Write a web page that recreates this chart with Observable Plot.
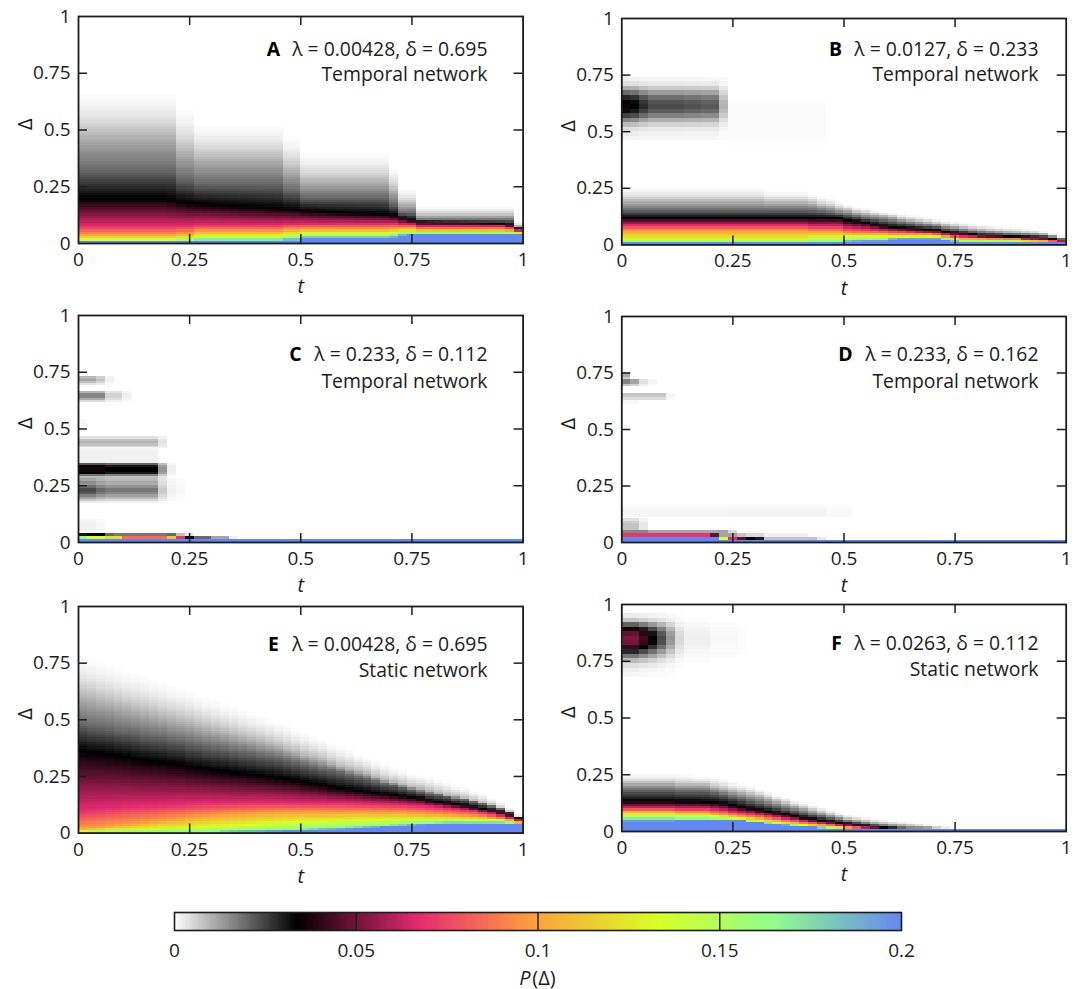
<!DOCTYPE html>
<html><head><meta charset="utf-8">
<script src="https://cdn.jsdelivr.net/npm/d3@7"></script>
<script src="https://cdn.jsdelivr.net/npm/@observablehq/plot@0.6"></script>
<style>
html,body{margin:0;padding:0;background:#fff;}
#page{position:relative;width:1078px;height:989px;overflow:hidden;}
#page svg{position:absolute;overflow:visible;background:transparent;}
.heat{filter:blur(0.45px);}
</style></head><body><div id="page"></div>
<script>
// Colour scale of P(Δ)
const colorDomain=[0,.0338,.0674,.098,.133,.165,.2];
const colorRange=["#ffffff","#000000","#e62a72","#ff9c3f","#d9ff26","#92fc8c","#6488f0"];
// P value of each iso-level; the arrays below give, per t column, the Δ (in %) where P falls to that level
const levelP=[.2,.165,.133,.098,.067,.034,.02,.01,0];
const tickVals=[0,.25,.5,.75,1];
const innerTicks=[.25,.5,.75];
const barTicks=[0,.05,.1,.15,.2];

// Panel A (runs written as [count,value])
const aBlue=[[25,.9],[11,1.9],3,[13,3.8]];
const aGreen=[[11,1.1],[2,1.2],[10,1.6],[2,2.2],[10,3],3.6,[2,4.3],[10,4.4],4.4,4.2];
const aLime=[[11,1.5],[2,1.8],[10,3],[2,3.8],[10,4.3],4.6,[2,5],[10,4.9],4.7,4.4];
const aOrange=[[11,3.7],[2,4.2],[10,5.3],[2,5.9],[10,6.2],6.4,[2,6.5],[10,5.9],5.6,4.8];
const aPink=[[11,7.5],[2,7.7],[10,8],[2,8.3],[10,8.5],8.6,[2,8.2],[10,7.4],6.8,5.4];
const aBlack=[[10,19.5],19,18,17.5,17.2,17,16.8,16.5,16.3,16,15.8,15.5,15.3,15,14.8,14.5,14,13.8,13.6,13.4,13.2,13,12.9,12.8,12.7,12.5,12,11,10,9.3,9.2,9.1,9,9,8.9,8.8,8.7,8.6,8.5,8,6.3];
const aDark=[[11,32],[2,28],[10,26],[2,23],[10,20],17,[2,13],[11,10],7];
const aMid=[[11,47],[2,40],[10,37],[2,32],[10,27],23,[2,17],[11,12],7.5];
const aFade=[[11,69],[2,62],[10,55],[2,49],[10,42],35,[2,25],[11,17],9.5];

// Panel B
const bBlue=[[25,.7],.9,1.1,[3,1.3],2.2,[5,2.4],2,1.2,[12,.8]];
const bGreen=[[21,1.2],[4,1.5],2.2,[4,2.4],[6,2.9],2.5,1.8,[7,1.3],[5,.9]];
const bLime=[[21,2.2],[4,3],[11,3.4],3,2.4,2,1.9,1.9,1.8,1.8,1.7,1.6,1.3,1.1,1,.9,.8];
const bOrange=[[21,6],[4,5.7],5,[4,4.8],[5,4.4],4,3.5,2.9,2.7,2.6,2.5,2.4,2.4,2.3,2.3,1.9,1.8,1.6,1.2,1];
const bPink=[[21,8.5],[4,8],7.2,7,6.8,6.4,6.2,6,5.8,5.5,5.2,5,4.9,4.2,3.9,3.5,3.3,3.1,[4,3],2.3,2.2,2.1,1.7,1.3];
const bBlack=[[25,11.5],10.5,10,9.5,8.8,8,7.5,7.2,7,6.8,6.5,6.3,5.5,5,4.8,4.5,3.9,3.8,3.7,3.5,3.4,3.2,3,2.8,2.4,2];
const bDark=[[21,15],14.8,14.5,14,13.5,13,12.3,11.5,11,10.5,10,9.5,9,8.5,8.2,7.8,7,6.6,6,5.6,5.2,5,4.8,4.5,4.4,4.2,4,3.8,3.2,2.5];
const bMid=[[16,19],[5,18.5],18,17,16.5,15.5,15,14,13.5,13,12.5,12,11,10.5,10,9.5,9,8.3,7.8,7.3,6.8,6.5,6,5.8,5.5,5.3,5,4.8,4.5,3.8,3];
const bFade=[[16,26],[5,24.5],23,22,21,19.5,18,17,16.5,15.5,15,14.5,14,13.5,13,12.5,11.5,11,10.5,10,9.5,9,8.7,8.5,8.2,8,7.5,7,6,5,3.8];
// Blobs: [Δ start %, row step %, row weights, peak P per t column]
const bBlobs=[
 [46,2,[.04,.07,.12,.25,.45,.7,.9,1,.95,.8,.55,.3,.12,.05],[.036,.034,.028,.024,.024,.024,.024,.023,.023,.022,.022,.01]],
 [44,2,[.4,.7,1,1,1,1,1,1,.7,.4],[0,0,0,0,0,0,0,0,0,0,0,0,.0008,.0008,.0008,.0008,.0008,.0008,.0008,.0008,.0008,.0008,.0008]]
];

// Panel C bands
const blueFloor=Array(50).fill(.2);
const cBands=[
 [69,1,[.3,.7,1,.8],[.012,.012,.008,.002]],
 [61.5,1,[.3,.7,1,1,.6],[.016,.016,.016,.006,.006,.002]],
 [50,2,[.5,.5],[.0015]],
 [41.5,1,[.5,.8,1,.8,.4],[.01,.01,.01,.01,.01,.01,.01,.01,.01,.004]],
 [34,2,[1,1,1,.8],[.0018,.0018,.0018,.0018,.0018,.0018,.0018,.0018,.0018]],
 [28,1,[.25,.5,.9,1,1,.9,.6],[.037,.037,.037,.034,.034,.034,.034,.034,.034,.014,.002]],
 [17,1,[.1,.3,.5,.7,.9,1,1,.8,.6,.65,.5],[.024,.024,.02,.018,.018,.018,.018,.018,.018,.007,.002,.001]],
 [5,1,[1,1,1,.9,.7],[.002,.002,.001]],
 [2.6,1.4,[1],[.04,.036,.034,.02,.018,.018,.018,.018,.018,.018,.02,.008,.003]],
 [1,1.6,[1],[.165,.135,.135,.122,.122,.085,.085,.085,.085,.085,.112,.07,.034,.02,.02,.012,.012,.002]],
 [0,1.2,[1],blueFloor]
];

// Panel D bands
const dBands=[
 [72,1,[.6,1,1],[.011]],
 [69,1,[.5,1,1],[.016,.012,.004,.0012]],
 [63,1,[.6,1,1],[.0075,.0075,.0075,.0075,.0075,.0015]],
 [61,1,[.4,.4],[.002,.002]],
 [11,1,[.8,1,1,.8,.5,.3],[.0012,.0012,.0012,.0012,.0012,.0012,.0012,.0012,.0012,.0012,.0012,.0012,.0018,.0018,.0018,.0018,.0018,.0018,.0018,.0018,.0018,.0018,.0018,.0008,.0008,.0008]],
 [5.5,1,[1,1,1,.8,.5],[.008,.008,.003]],
 [4,1.5,[1],[.016,.016,.016,.012,.012,.012,.012,.012,.012,.012,.012,.012,.005]],
 [2.2,1.8,[1],[.07,.07,.07,.07,.07,.07,.07,.07,.07,.07,.048,.012,.012,.008,.005,.005,.002,.002,.002,.002,.002]],
 [1,1.2,[1],[.2,.2,.2,.2,.2,.2,.2,.2,.2,.2,.2,.135,.067,.048,.034,.03,.008,.008,.008,.008,.008,.008,.003]],
 [0,1,[1],blueFloor]
];

// Panel E
const eBlue=[[21,.3],.4,.4,.5,.6,.7,.8,.9,1,1.2,1.4,1.7,2,2.2,2.5,2.7,2.9,3.2,3.4,3.7,3.8,3.9,4,4,4,4,4,3.9,3.7,3.5];
const eGreen=[[15,.4],.5,.6,.7,.8,.9,1,1.1,1.2,1.4,1.5,1.7,1.9,2.1,2.3,2.5,2.7,2.9,3.1,3.3,3.5,3.7,3.9,4.1,4.3,4.5,4.6,4.7,4.7,4.7,4.7,4.7,4.7,4.7,4.4,3.8];
const eLime=[.5,.6,.7,.8,.9,1,1.1,1.2,1.4,1.6,1.7,1.9,2.1,2.3,2.5,2.7,2.9,3.1,3.3,3.5,3.7,3.9,4.1,4.3,4.5,4.7,4.8,4.9,5,5.1,5.2,5.3,5.4,5.5,5.6,5.7,5.8,5.8,5.9,5.9,5.9,5.9,5.8,5.8,5.7,5.7,5.6,5.4,5,4.2];
const eOrange=[1.8,2.2,2.6,3,3.4,3.8,4.2,4.6,5,5.4,5.8,6.2,6.6,7,7.3,7.6,7.9,8.1,8.3,8.5,8.7,8.8,8.9,9,9,9,9,9,9,9,9,9,9,8.9,8.9,8.8,8.8,8.6,8.4,8.2,8,7.8,7.6,7.4,7.2,7,6.6,6.1,5.6,4.6];
const ePink=[10,10.3,10.6,10.9,11.1,11.4,11.6,11.8,12,12.2,12.4,12.6,12.8,12.9,13,13,13.1,13.1,13.2,13.2,13.2,13.2,13.2,13.1,13.1,13,13,13,12.9,12.9,12.8,12.7,12.6,12.5,12.4,12.3,12.2,12,11.8,11.5,11.2,10.8,10.4,10,9.5,8.8,8.2,7.4,6.4,5.2];
const eBlack=[36,35.5,35,34.5,34,33.5,32.5,32,31.5,31,30.5,30,29,28.5,28,27.5,27,26.5,26,25.5,25,24.5,24,23.5,23,22,21.5,21,20,19.5,19,18.5,18,17.5,17,16.5,16,15.5,15,14,13.5,13,12.5,12,11,10.5,10,9,8,6.5];
const eDark=[48,47,46.5,46,45,44.5,44,43,42.5,42,41,40.5,39.5,39,38,37.5,37,36,35.5,35,34,33.5,33,32,31,30,29,28,27.5,26.5,25.5,24.5,23.5,22.5,21.5,21,20,19,18,17,16.5,16,15,14.5,13.5,12.5,11.5,10.5,9,7];
const eMid=[60,59,58,57,56,55,54,53,52,51,50,49,48,47,46,45,44,43,42,41,40,39,38,36.5,35.5,34,33,32,30.5,29,28,27,26,24.5,23,22,21,20,19.5,18.5,17.5,16.5,16,15,14,13,12,10.5,9,7];
const eFade=[81,80,78.5,77,75.5,74,73,72,70.5,69,68,66.5,65,63.5,62,61,59.5,58,56.5,55,53.5,52,50.5,49,47.5,46,44.5,43,41,39.5,38,36,34.5,33,31.5,30,29,27.5,26.5,25.5,24.5,23.5,22,21,19.5,18,16,14,11.5,8];

// Panel F
const fBlue=[[6,4.3],[7,5],4.6,4,3.5,3.1,2.7,2.4,2.1,1.8,1.5,1.3,1.1,1,.9,[19,.8],[5,1.1]];
const fGreen=[[6,5.7],[4,5.5],5.3,5.1,4.8,4.5,4.2,4,3.6,3.2,2.8,2.5,2.2,1.9,1.6,1.3,1.1,1,[19,.9],[5,1.2]];
const fLime=[[6,7.2],[4,6.9],6.5,6.2,5.8,5.4,5,4.7,4.2,3.7,3.2,2.9,2.5,2.2,1.9,1.6,1.4,1.2,[19,.9],[5,1.2]];
const fOrange=[[6,8.7],[4,8.2],7.6,7.3,6.9,6.5,6.1,5.7,5.2,4.8,4.2,3.7,3.2,2.9,2.5,2.2,1.8,1.5,1.2,1,[17,.9],[5,1.2]];
const fPink=[[6,10],[4,9.8],9.4,9,8.4,8,7.6,7.2,6.6,6,5.4,4.9,4.3,3.8,3.3,2.9,2.4,2,1.7,1.3,1.1,[16,.9],[5,1.2]];
const fBlack=[[6,13],[3,12.8],12.6,12.4,11.9,11.2,10.4,9.8,9,8.5,7.9,7.2,6.5,5.7,5.2,4.6,4.1,3.6,3.2,2.7,2.2,1.8,1.5,1.3,1.1,[13,.9],[5,1.2]];
const fDark=[[6,18],[4,17.5],16.8,16,15,14.2,13.2,12.4,11.5,10.6,9.7,8.8,8,7.2,6.5,5.7,5,4.3,3.8,3.2,2.7,2.2,1.8,1.5,[13,.9],[5,1.2]];
const fMid=[[6,21],[4,20.3],19,18.3,17.5,16.8,16,15.3,14.2,13,12,11,10,9,8,7,6.2,5.3,4.7,4.2,3.6,3.2,2.8,2.5,2.2,2,1.7,1.2,[9,.9],[5,1.2]];
const fFade=[[8,26],[3,25],24,22.5,21.5,20.5,19,18,16.5,15.5,14,13,12,11,10,8.5,7.5,7,6.5,6,5.5,5,4.5,4,3.5,3,2.5,2,1.6,[7,1.2],[5,1.3]];
const fBlobs=[[68,2,[.02,.04,.08,.18,.35,.55,.8,.97,1,.92,.7,.4,.15,.05],[.052,.052,.043,.034,.024,.014,.005,.002,.002,.002,.001,.001,.001,.0005]]];

const expand=a=>a.flatMap(v=>Array.isArray(v)?Array(v[0]).fill(v[1]):[v]);
const table=(...cols)=>cols.map(expand);

const panels=[
 {key:"A",info:"λ = 0.00428, δ = 0.695",net:"Temporal network",box:[78,16,522.6,243],lx:273,tx:487,ty:[33,58],levels:table(aBlue,aGreen,aLime,aOrange,aPink,aBlack,aDark,aMid,aFade),bands:[]},
 {key:"B",info:"λ = 0.0127, δ = 0.233",net:"Temporal network",box:[621.3,18,1065.7,244.4],lx:835,tx:1038,ty:[31,56],levels:table(bBlue,bGreen,bLime,bOrange,bPink,bBlack,bDark,bMid,bFade),bands:bBlobs},
 {key:"C",info:"λ = 0.233, δ = 0.112",net:"Temporal network",box:[78,314.5,522.6,541.5],lx:295,tx:487,ty:[39,66],levels:null,bands:cBands},
 {key:"D",info:"λ = 0.233, δ = 0.162",net:"Temporal network",box:[621.3,315.5,1065.7,541.5],lx:845,tx:1038,ty:[38,65],levels:null,bands:dBands},
 {key:"E",info:"λ = 0.00428, δ = 0.695",net:"Static network",box:[78,605.7,522.6,832.3],lx:273,tx:487,ty:[38,64],levels:table(eBlue,eGreen,eLime,eOrange,ePink,eBlack,eDark,eMid,eFade),bands:[]},
 {key:"F",info:"λ = 0.0263, δ = 0.112",net:"Static network",box:[621.3,604.3,1065.7,831.3],lx:836,tx:1038,ty:[39,65],levels:table(fBlue,fGreen,fLime,fOrange,fPink,fBlack,fDark,fMid,fFade),bands:fBlobs}
];

function levelValue(levels,c,d){
  const H=levels.map(l=>l[c]), last=H.length-1;
  if(d<=H[0]) return levelP[0];
  for(let i=0;i<last;i++){
    if(d<=H[i+1]){
      const f=(d-H[i])/Math.max(H[i+1]-H[i],.001);
      // the outermost stretch tails off softly towards white, as in the picture
      if(i===last-1) return levelP[i]*(1-f)*(1-f);
      return levelP[i]+(levelP[i+1]-levelP[i])*f;
    }
  }
  return 0;
}
function cellsOf(p){
  const out=[];
  if(p.levels){
    for(let c=0;c<50;c++) for(let r=0;r<100;r++){
      const v=levelValue(p.levels,c,r+.5);
      if(v>.0002) out.push({t1:c/50,t2:(c+1)/50,d1:r/100,d2:(r+1)/100,p:v});
    }
  }
  for(const [start,step,weights,cols] of p.bands){
    weights.forEach((w,i)=>cols.forEach((v,c)=>{
      if(v*w>.0002) out.push({t1:c/50,t2:(c+1)/50,d1:(start+i*step)/100,d2:(start+(i+1)*step)/100,p:v*w});
    }));
  }
  return out;
}
const colorOpt={type:"linear",domain:colorDomain,range:colorRange,interpolate:"rgb",clamp:true};
const font={fontFamily:"'Open Sans',sans-serif",fontSize:"19px",color:"#222"};
const ink="#1c1c1c", tickLen=9;
const page=document.getElementById("page");

for(const p of panels){
  const [L,T,R,B]=p.box, w=R-L, h=B-T;
  const mL=L>600?L-540:L, mT=30, mB=60, mR=14;
  const svgLeft=L-mL, svgTop=T-mT;
  const plot=Plot.plot({
    width:w+mL+mR,height:h+mT+mB,marginLeft:mL,marginRight:mR,marginTop:mT,marginBottom:mB,
    style:font,
    x:{domain:[0,1]},y:{domain:[0,1]},color:colorOpt,
    marks:[
      Plot.rect(cellsOf(p),{x1:"t1",x2:"t2",y1:"d1",y2:"d2",fill:"p",shapeRendering:"crispEdges",className:"heat"}),
      Plot.ruleX(innerTicks,{x:d=>d,insetTop:h-tickLen,stroke:ink,strokeWidth:1.5}),
      Plot.ruleX(innerTicks,{x:d=>d,insetBottom:h-tickLen,stroke:ink,strokeWidth:1.5}),
      Plot.ruleY(innerTicks,{y:d=>d,insetRight:w-tickLen,stroke:ink,strokeWidth:1.5}),
      Plot.ruleY(innerTicks,{y:d=>d,insetLeft:w-tickLen,stroke:ink,strokeWidth:1.5}),
      Plot.frame({stroke:ink,strokeWidth:1.8}),
      Plot.axisX({ticks:tickVals,tickFormat:d=>String(d),tickSize:0,tickPadding:9,label:null,fontSize:19,fill:ink}),
      Plot.axisY({ticks:tickVals,tickFormat:d=>String(d),tickSize:0,tickPadding:8,label:null,fontSize:19,fill:ink}),
      Plot.text(["t"],{frameAnchor:"bottom",dy:50,text:d=>d,fontStyle:"italic",fontSize:20,fill:ink}),
      Plot.text(["Δ"],{frameAnchor:"left",dx:-53,rotate:-90,text:d=>d,fontSize:20,fill:ink}),
      Plot.text([p.info],{frameAnchor:"top-right",dx:p.tx-R,dy:p.ty[0],textAnchor:"end",lineAnchor:"middle",text:d=>d,fontSize:19.4,fill:ink}),
      Plot.text([p.net],{frameAnchor:"top-right",dx:p.tx-R,dy:p.ty[1],textAnchor:"end",lineAnchor:"middle",text:d=>d,fontSize:19.4,fill:ink}),
      Plot.text([p.key],{frameAnchor:"top-left",dx:p.lx-L,dy:p.ty[0],textAnchor:"middle",lineAnchor:"middle",text:d=>d,fontWeight:"bold",fontSize:19.4,fill:"#000"})
    ]
  });
  plot.style.left=svgLeft+"px"; plot.style.top=svgTop+"px";
  page.appendChild(plot);
}

// Colour bar
const steps=d3.range(0,.2,.0005);
const barL=174,barR=901,barT=912,barB=930;
const bar=Plot.plot({
  width:barR-barL+60,height:barB-barT+70,marginLeft:30,marginRight:30,marginTop:5,marginBottom:65,
  style:font,
  x:{domain:[0,.2]},color:colorOpt,
  marks:[
    Plot.rect(steps,{x1:d=>d,x2:d=>d+.0005,fill:d=>d+.00025,shapeRendering:"crispEdges"}),
    Plot.ruleX([.05,.1,.15],{stroke:ink,strokeWidth:1.4}),
    Plot.frame({stroke:ink,strokeWidth:1.6}),
    Plot.axisX({ticks:barTicks,tickFormat:d=>String(d),tickSize:0,tickPadding:13,label:null,fontSize:19,fill:ink}),
    Plot.text(["P"],{frameAnchor:"bottom",dx:-13,dy:54,textAnchor:"middle",text:d=>d,fontStyle:"italic",fontSize:20,fill:ink}),
    Plot.text(["(Δ)"],{frameAnchor:"bottom",dx:6,dy:54,textAnchor:"middle",text:d=>d,fontSize:20,fill:ink})
  ]
});
bar.style.left=(barL-30)+"px"; bar.style.top=(barT-5)+"px";
page.appendChild(bar);
</script></body></html>
